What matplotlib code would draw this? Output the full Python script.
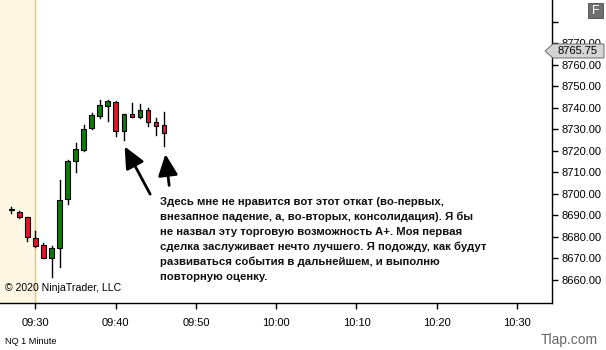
import matplotlib
matplotlib.use("Agg")
import matplotlib.pyplot as plt
from matplotlib.patches import Rectangle, Polygon

plt.rcParams['font.family'] = ['Liberation Sans', 'DejaVu Sans']

# minutes after 09:00, one bar per minute
minutes = [27, 28, 29, 30, 31, 32, 33, 34, 35, 36,
           37, 38, 39, 40, 41, 42, 43, 44, 45, 46]
opens = [8692.75, 8691.5, 8689.25, 8679.5, 8676.25, 8670.25, 8675.0, 8697.5, 8715.25, 8720.25,
         8730.5, 8736.25, 8741.0, 8742.75, 8729.25, 8737.25, 8735.75, 8739.0, 8733.5, 8732.0]
highs = [8694.0, 8692.0, 8689.5, 8682.75, 8677.0, 8675.75, 8706.5, 8715.75, 8723.75, 8732.0,
         8737.75, 8743.75, 8743.75, 8743.25, 8737.25, 8742.25, 8742.0, 8740.0, 8735.25, 8738.0]
lows = [8691.25, 8689.0, 8678.0, 8675.25, 8670.0, 8661.5, 8666.0, 8695.25, 8710.25, 8720.0,
        8730.25, 8735.25, 8734.0, 8727.0, 8725.0, 8735.75, 8735.25, 8731.5, 8727.5, 8722.25]
closes = [8692.75, 8689.25, 8680.0, 8675.75, 8670.25, 8675.0, 8697.25, 8715.25, 8721.0, 8730.25,
          8736.75, 8741.5, 8743.25, 8729.25, 8737.25, 8735.75, 8739.0, 8733.5, 8731.5, 8728.5]

x_ticks = [30, 40, 50, 60, 70, 80, 90]
x_labels = ["09:30", "09:40", "09:50", "10:00", "10:10", "10:20", "10:30"]
y_ticks = [8660, 8670, 8680, 8690, 8700, 8710, 8720, 8730, 8740, 8750, 8760, 8770, 8780]
last_price = 8765.75

note = ("Здесь мне не нравится вот этот откат (во-первых,\n"
        "внезапное падение, а, во-вторых, консолидация). Я бы\n"
        "не назвал эту торговую возможность A+. Моя первая\n"
        "сделка заслуживает нечто лучшего. Я подожду, как будут\n"
        "развиваться события в дальнейшем, и выполню\n"
        "повторную оценку.")

W, H = 606, 350
fig = plt.figure(figsize=(W / 100, H / 100), dpi=100)
ax = fig.add_axes([0, (H - 303) / H, 552 / W, 303 / H])

ax.set_xlim(25.58, 94.36)
ax.set_ylim(8649.3, 8790.2)

# pre-session shading
ax.axvspan(25.58, 30, color='#fdf7e3', zorder=0)
ax.axvline(30, color='#f2c94c', lw=1, zorder=1)

# candles
bw = 0.56
for m, o, h, l, c in zip(minutes, opens, highs, lows, closes):
    ax.plot([m, m], [l, h], color='black', lw=1, zorder=2)
    if c > o:
        col = '#0b7a0b'
    elif c < o:
        col = '#e3142c'
    else:
        col = 'black'
    bottom = min(o, c)
    height = max(abs(c - o), 0.35)
    ax.add_patch(Rectangle((m - bw / 2, bottom), bw, height, facecolor=col,
                           edgecolor='black', lw=0.8, zorder=3))

# arrows
head = '-|>,head_length=1.3,head_width=0.6'
ax.annotate("", xy=(40.95, 8723.2), xytext=(44.45, 8698.8),
            arrowprops=dict(arrowstyle=head, color='black', lw=2), zorder=5)
ax.annotate("", xy=(46.15, 8719.8), xytext=(46.7, 8702.7),
            arrowprops=dict(arrowstyle=head, color='black', lw=2), zorder=5)

ax.text(160 / W, 1 - 197 / H, note, transform=fig.transFigure, fontsize=8.2,
        fontweight='bold', color='#111111', va='top', ha='left', linespacing=1.56)

ax.text(5 / W, 1 - 288 / H, "© 2020 NinjaTrader, LLC", transform=fig.transFigure,
        fontsize=7.6, va='center', ha='left')

# axes styling
for s in ['left', 'top']:
    ax.spines[s].set_visible(False)
ax.spines['right'].set_linewidth(1)
ax.spines['bottom'].set_linewidth(1)
ax.yaxis.tick_right()
ax.set_yticks(y_ticks)
ax.set_yticklabels(["%.2f" % v if v != 8780 else "" for v in y_ticks])
ax.set_xticks(x_ticks)
ax.set_xticklabels(x_labels)
ax.tick_params(axis='y', direction='out', length=4, width=1, pad=3, labelsize=8)
ax.tick_params(axis='x', direction='out', length=4, width=1, pad=7, labelsize=8)

# last price marker (sits over the 8770 label like in the platform)
py = 51
poly = Polygon([(545 / W, 1 - py / H), (553 / W, 1 - 44 / H), (604 / W, 1 - 44 / H),
                (604 / W, 1 - 58 / H), (553 / W, 1 - 58 / H)], closed=True,
               transform=fig.transFigure, facecolor='#d4d4d4', edgecolor='#7a7a7a',
               lw=0.8, zorder=10)
fig.add_artist(poly)
fig.text(578 / W, 1 - py / H, "%.2f" % last_price, fontsize=8, ha='center',
         va='center', zorder=11)

# "F" badge
badge = Rectangle((588 / W, 1 - 18 / H), 15 / W, 15 / H, transform=fig.transFigure,
                  facecolor='#6e6e6e', edgecolor='#4a4a4a', lw=0.6, zorder=10)
fig.add_artist(badge)
fig.text(595.5 / W, 1 - 10.5 / H, "F", color='white', fontsize=9, ha='center',
         va='center', zorder=11)

fig.text(5 / W, 1 - 341 / H, "NQ 1 Minute", fontsize=6.6, ha='left', va='center')
fig.text(598 / W, 1 - 340 / H, "Tlap.com", fontsize=10, color='#666666',
         ha='right', va='center')

fig.savefig("out.png", dpi=100)
